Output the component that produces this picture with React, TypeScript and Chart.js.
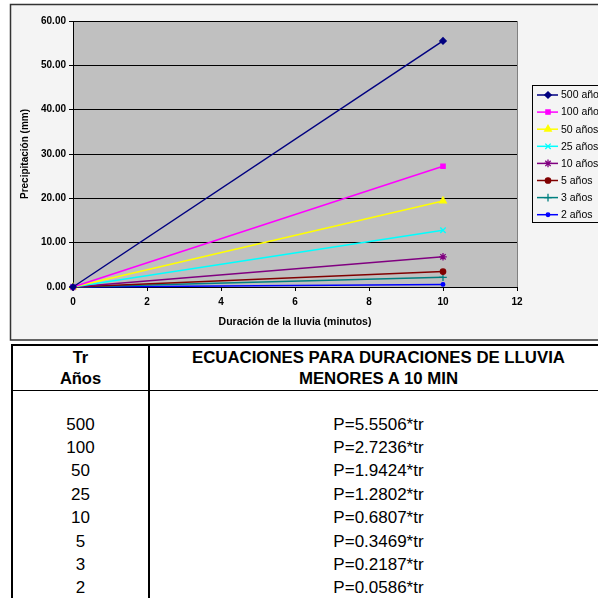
import React, { useEffect, useRef } from "react";
import { Chart, registerables } from "chart.js";
import { drawPoint } from "chart.js/helpers";

Chart.register(...registerables);

// ---- data ----
const durations = [0, 10];
const seriesLabels = ["500 años", "100 años", "50 años", "25 años", "10 años", "5 años", "3 años", "2 años"];
const p500 = [0, 55.51];
const p100 = [0, 27.24];
const p50 = [0, 19.42];
const p25 = [0, 12.8];
const p10 = [0, 6.81];
const p5 = [0, 3.47];
const p3 = [0, 2.19];
const p2 = [0, 0.59];
const xTicks = [0, 2, 4, 6, 8, 10, 12];
const yTicks = [0, 10, 20, 30, 40, 50, 60];
const tableTr = ["500", "100", "50", "25", "10", "5", "3", "2"];
const tableCoef = ["5.5506", "2.7236", "1.9424", "1.2802", "0.6807", "0.3469", "0.2187", "0.0586"];

const seriesValues = [p500, p100, p50, p25, p10, p5, p3, p2];
const colors = ["#000080", "#ff00ff", "#ffff00", "#00ffff", "#800080", "#800000", "#008080", "#0000ff"];
const styles = ["rectRot", "rect", "triangle", "crossRot", "star", "circle", "cross", "circle"];
const radii = [3.2, 3, 3.8, 3.8, 3.8, 2.7, 3.8, 1.8];

const FONT = 'Arial, "Liberation Sans", sans-serif';
const CANVAS_W = 660;
const CANVAS_H = 343;

const framePlugin = {
  id: "frame",
  beforeDraw(chart: any) {
    const ctx = chart.ctx;
    ctx.save();
    ctx.fillStyle = "#f4f4f4";
    ctx.fillRect(10, 4, 650, 336);
    ctx.strokeStyle = "#333333";
    ctx.lineWidth = 1.5;
    ctx.strokeRect(10.5, 4.5, 660, 335.5);
    const { left, top, right, bottom } = chart.chartArea;
    ctx.fillStyle = "#c0c0c0";
    ctx.fillRect(left, top, right - left, bottom - top);
    ctx.restore();
  },
  beforeDatasetsDraw(chart: any) {
    const ctx = chart.ctx;
    const { right, top, bottom } = chart.chartArea;
    ctx.save();
    ctx.strokeStyle = "#808080";
    ctx.lineWidth = 1;
    ctx.beginPath();
    ctx.moveTo(right + 0.5, top);
    ctx.lineTo(right + 0.5, bottom);
    ctx.stroke();
    ctx.restore();
  },
  afterDraw(chart: any) {
    const ctx = chart.ctx;
    ctx.save();
    ctx.fillStyle = "#f4f4f4";
    ctx.fillRect(532.5, 85.5, 120, 137);
    ctx.strokeStyle = "#000";
    ctx.lineWidth = 1;
    ctx.strokeRect(532.5, 85.5, 120, 137);
    chart.data.datasets.forEach((ds: any, i: number) => {
      const y = 95 + i * 17.1;
      ctx.strokeStyle = ds.borderColor;
      ctx.lineWidth = 1.5;
      ctx.beginPath();
      ctx.moveTo(537, y);
      ctx.lineTo(558, y);
      ctx.stroke();
      ctx.fillStyle = ds.pointBackgroundColor;
      ctx.strokeStyle = ds.pointBorderColor;
      ctx.lineWidth = ds.pointBorderWidth;
      drawPoint(ctx, { pointStyle: ds.pointStyle, radius: ds.pointRadius, rotation: 0, borderWidth: ds.pointBorderWidth }, 548, y);
      ctx.fillStyle = "#000";
      ctx.font = "10.5px " + FONT;
      ctx.textBaseline = "middle";
      ctx.textAlign = "left";
      ctx.fillText(ds.label, 561, y + 0.5);
    });
    ctx.restore();
  },
};

function ChartView() {
  const ref = useRef<HTMLCanvasElement | null>(null);
  useEffect(() => {
    if (!ref.current) return;
    const datasets = seriesValues.map((vals, i) => ({
      label: seriesLabels[i],
      data: durations.map((d, j) => ({ x: d, y: vals[j] })),
      borderColor: colors[i],
      backgroundColor: colors[i],
      borderWidth: 1.5,
      pointStyle: styles[i],
      pointRadius: radii[i],
      pointBackgroundColor: colors[i],
      pointBorderColor: colors[i],
      pointBorderWidth: 1.3,
      fill: false,
      tension: 0,
      clip: false as any,
    }));
    const chart = new Chart(ref.current, {
      type: "line",
      data: { datasets },
      plugins: [framePlugin],
      options: {
        animation: false,
        responsive: false,
        devicePixelRatio: 1,
        layout: { padding: { left: 0, top: 21, right: CANVAS_W - 517, bottom: 0 } },
        plugins: { legend: { display: false }, tooltip: { enabled: false } },
        scales: {
          x: {
            type: "linear",
            min: 0,
            max: 12,
            afterBuildTicks: (s: any) => { s.ticks = xTicks.map((v) => ({ value: v })); },
            afterFit: (s: any) => { s.height = CANVAS_H - 287; },
            ticks: { color: "#000", font: { family: FONT, size: 10, weight: "bold" }, padding: 5, maxRotation: 0 },
            grid: { drawOnChartArea: false, drawTicks: true, tickLength: 4, color: "#000" },
            border: { color: "#000", width: 1 },
            title: {
              display: true,
              text: "Duración de la lluvia (minutos)",
              color: "#000",
              font: { family: FONT, size: 10.5, weight: "bold" },
              padding: { top: 0, bottom: 14.7 },
            },
          },
          y: {
            type: "linear",
            min: 0,
            max: 60,
            afterBuildTicks: (s: any) => { s.ticks = yTicks.map((v) => ({ value: v })); },
            afterFit: (s: any) => { s.width = 73; },
            ticks: {
              color: "#000",
              font: { family: FONT, size: 10, weight: "bold" },
              padding: 3,
              callback: (v: any) => Number(v).toFixed(2),
            },
            grid: { color: "#000", lineWidth: 1, tickLength: 4 },
            border: { color: "#000", width: 1 },
            title: {
              display: true,
              text: "Precipitación (mm)",
              color: "#000",
              font: { family: FONT, size: 10, weight: "bold" },
              padding: { top: 19, bottom: 0 },
            },
          },
        },
      } as any,
    });
    return () => chart.destroy();
  }, []);
  return <canvas ref={ref} width={CANVAS_W} height={CANVAS_H} style={{ position: "absolute", left: 0, top: 0, width: CANVAS_W, height: CANVAS_H, display: "block" }} />;
}

function EquationsTable() {
  const rowH = 23.4;
  return (
    <div style={{ position: "absolute", left: 11, top: 344, width: 600, height: 270, border: "2px solid #000", boxSizing: "border-box", fontFamily: FONT, color: "#000" }}>
      <div style={{ position: "absolute", left: 135, top: -2, width: 2, height: 280, background: "#000" }} />
      <div style={{ position: "absolute", left: 0, top: 43.5, width: 600, height: 1, background: "#000" }} />
      <div style={{ position: "absolute", left: 0, top: 0.5, width: 135, textAlign: "center", fontWeight: "bold", fontSize: 16.5, lineHeight: "21px" }}>
        Tr<br />Años
      </div>
      <div style={{ position: "absolute", left: 137, top: 0.5, width: 457, textAlign: "center", fontWeight: "bold", fontSize: 16.8, lineHeight: "21px", whiteSpace: "nowrap" }}>
        ECUACIONES PARA DURACIONES DE LLUVIA<br />MENORES A 10 MIN
      </div>
      {tableTr.map((tr, i) => (
        <React.Fragment key={tr}>
          <div style={{ position: "absolute", left: 0, top: 66.5 + i * rowH, width: 135, height: rowH, lineHeight: rowH + "px", textAlign: "center", fontSize: 17 }}>{tr}</div>
          <div style={{ position: "absolute", left: 137, top: 66.5 + i * rowH, width: 457, height: rowH, lineHeight: rowH + "px", textAlign: "center", fontSize: 17 }}>{"P=" + tableCoef[i] + "*tr"}</div>
        </React.Fragment>
      ))}
    </div>
  );
}

export default function App() {
  return (
    <div style={{ position: "absolute", left: 0, top: 0, width: 598, height: 598, overflow: "hidden", background: "#fff" }}>
      <ChartView />
      <EquationsTable />
    </div>
  );
}
